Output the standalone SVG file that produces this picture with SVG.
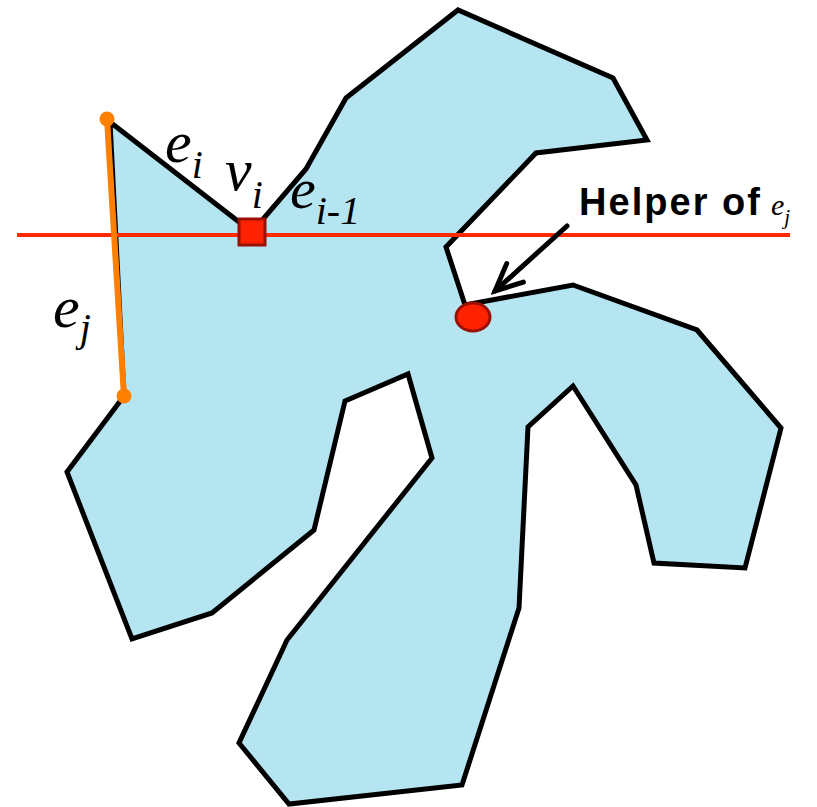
<svg xmlns="http://www.w3.org/2000/svg" width="817" height="807" viewBox="0 0 817 807">
<style>
.poly{fill:#b6e5f2;stroke:#000;stroke-width:5;stroke-linejoin:miter;stroke-miterlimit:10}
.sweep{stroke:#ff2a00;stroke-width:4;fill:none}
.edgej{stroke:#ff7f00;stroke-width:6;fill:none}
.dot{fill:#ff7f00}
.vert{fill:#ff2200;stroke:#9a1000;stroke-width:3}
.conn{stroke:#000;stroke-width:5;fill:none;stroke-linecap:round}
.m{font-family:"Liberation Serif","Times New Roman",serif;font-style:italic;fill:#000}
.lbl{font-family:"Liberation Sans",Arial,sans-serif;font-weight:bold;fill:#000}
</style>
<defs>
<marker id="arr" markerUnits="userSpaceOnUse" markerWidth="40" markerHeight="40" viewBox="-35 -20 40 40" refX="0" refY="0" orient="auto">
<path d="M-27,-12.5 L0,0 L-27,12.5" fill="none" stroke="#000" stroke-width="5" stroke-linecap="round" stroke-linejoin="miter"/>
</marker>
</defs>
<g id="polygon">
<polygon class="poly" points="110,122 252,232 306,169 346,98 458,10 613,78 647,140 536,153 446,247 465,305 573,285 697,330 781,428 745,568 654,563 636,485 573,386 528,427 519,608 462,785 289,804 239,743 287,640 432,458 408,374 345,401 314,530 212,613 132,639 67,472 124,396"/>
</g>
<g id="sweep-line">
<line class="sweep" x1="17" y1="235" x2="790" y2="235"/>
</g>
<g id="edge-ej">
<line class="edgej" x1="107" y1="119" x2="124" y2="396"/>
<circle class="dot" cx="107" cy="119" r="7.5"/>
<circle class="dot" cx="124" cy="396" r="7.5"/>
</g>
<g id="vertex-vi">
<rect class="vert" x="239" y="219" width="26" height="26"/>
</g>
<g id="helper">
<ellipse class="vert" cx="473" cy="317" rx="17" ry="14"/>
</g>
<g id="connectors">
<path class="conn" d="M567,226 L495,291" marker-end="url(#arr)"/>
</g>
<g id="labels">
<text class="m" x="165" y="162" font-size="60">e<tspan font-size="40" dy="16">i</tspan></text>
<text class="m" x="225" y="190" font-size="60">v<tspan font-size="40" dy="18">i</tspan></text>
<text class="m" x="290" y="208" font-size="58">e<tspan font-size="40" dy="16">i-1</tspan></text>
<text class="m" x="53" y="327" font-size="60">e<tspan font-size="40" dy="14">j</tspan></text>
<text class="lbl" x="579" y="215" font-size="38" textLength="181" lengthAdjust="spacing">Helper of</text>
<text class="m" x="771" y="215" font-size="30">e<tspan font-size="21" dy="9">j</tspan></text>
</g>
</svg>
